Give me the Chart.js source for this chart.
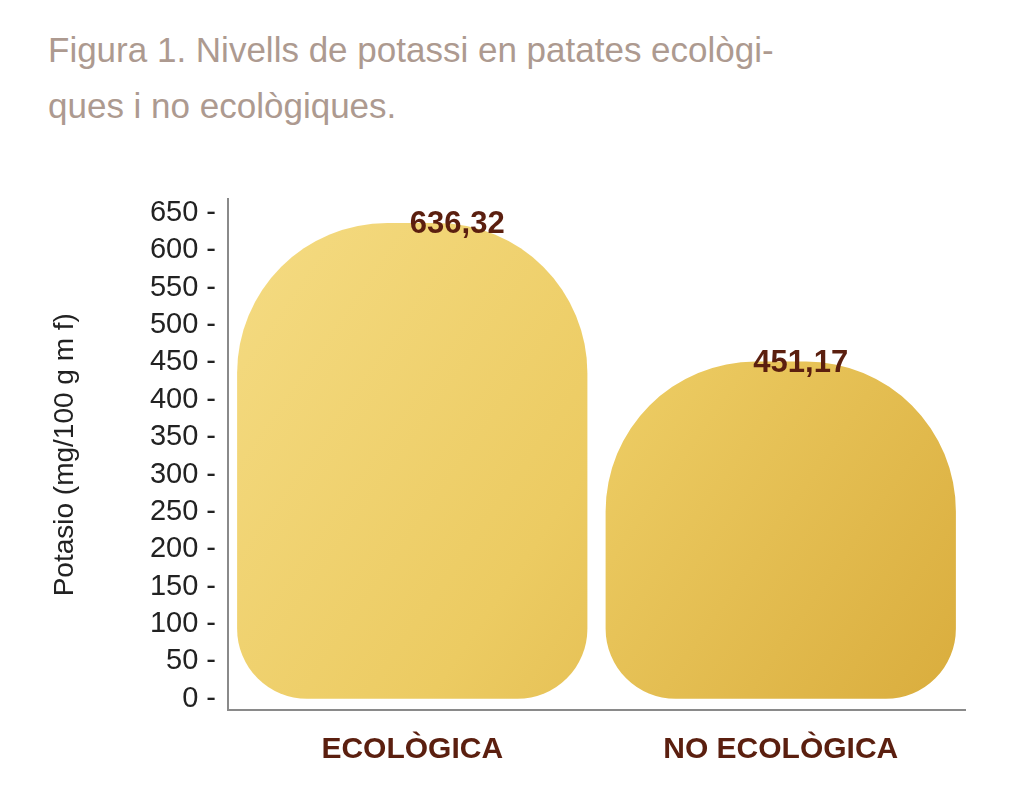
<!DOCTYPE html>
<html>
<head>
<meta charset="utf-8">
<script src="https://cdn.jsdelivr.net/npm/chart.js@4"></script>
<style>
  body { margin: 0; background: #fff; width: 1024px; height: 795px; overflow: hidden; position: relative; font-family: "Liberation Sans", Arial, sans-serif; }
  #title { position: absolute; left: 48px; top: 22px; font-size: 35px; line-height: 56px; color: #ad9a90; font-weight: 300; }
  #wrap { position: absolute; left: 0; top: 170px; width: 1000px; height: 625px; }
</style>
</head>
<body>
<div id="title">Figura 1. Nivells de potassi en patates ecològi-<br>ques i no ecològiques.</div>
<div id="wrap"><canvas id="chart"></canvas></div>
<script>
// Chart data
const categories = ['ECOLÒGICA', 'NO ECOLÒGICA'];
const potassium = [636.32, 451.17];
const valueLabels = ['636,32', '451,17'];

const brown = '#5b1f0f';

// Value labels above each bar
const valueLabelPlugin = {
    id: 'valueLabels',
    afterDatasetsDraw: function(chart) {
        const ctx = chart.ctx;
        const meta = chart.getDatasetMeta(0);
        ctx.save();
        ctx.font = 'bold 31px "Liberation Sans", Arial, sans-serif';
        ctx.fillStyle = brown;
        ctx.textAlign = 'center';
        ctx.textBaseline = 'bottom';
        meta.data.forEach(function(bar, i) {
            ctx.fillText(valueLabels[i], bar.x + 45 - i * 25, bar.y + 17);
        });
        ctx.restore();
    }
};

const ctx = document.getElementById('chart').getContext('2d');
new Chart(ctx, {
    type: 'bar',
    data: {
        labels: categories,
        datasets: [{
            data: potassium,
            backgroundColor: function(context) {
                const area = context.chart.chartArea;
                if (!area) return '#e8c25a';
                const g = context.chart.ctx.createLinearGradient(area.left, area.top, area.right, area.bottom);
                g.addColorStop(0, '#f5dc84');
                g.addColorStop(0.5, '#eccb62');
                g.addColorStop(1, '#d9ac3c');
                return g;
            },
            borderRadius: { topLeft: 150, topRight: 150, bottomLeft: 70, bottomRight: 70 },
            borderSkipped: false,
            categoryPercentage: 0.98,
            barPercentage: 0.97
        }]
    },
    options: {
        responsive: true,
        maintainAspectRatio: false,
        animation: false,
        layout: { padding: { top: 2, right: 35 } },
        plugins: { legend: { display: false }, tooltip: { enabled: false } },
        scales: {
            x: {
                grid: { display: false, drawTicks: false },
                border: { color: '#8a8a8a', width: 2 },
                ticks: {
                    color: brown,
                    padding: 22,
                    font: { family: '"Liberation Sans", Arial, sans-serif', size: 30, weight: 'bold' }
                },
                afterFit: function(scale) { scale.height = 85; }
            },
            y: {
                min: -15,
                max: 668,
                afterBuildTicks: function(scale) {
                    const t = [];
                    for (let v = 0; v <= 650; v += 50) t.push({ value: v });
                    scale.ticks = t;
                },
                grid: { display: false, drawTicks: false },
                border: { color: '#8a8a8a', width: 2 },
                ticks: {
                    color: '#222',
                    padding: 12,
                    font: { family: '"Liberation Sans", Arial, sans-serif', size: 29 },
                    callback: function(v) { return v + ' -'; }
                },
                title: {
                    display: true,
                    text: 'Potasio (mg/100 g m f)',
                    color: '#222',
                    font: { family: '"Liberation Sans", Arial, sans-serif', size: 28 },
                    padding: { top: 48, bottom: 0 }
                },
                afterFit: function(scale) { scale.width = 228; }
            }
        }
    },
    plugins: [valueLabelPlugin]
});
</script>
</body>
</html>
